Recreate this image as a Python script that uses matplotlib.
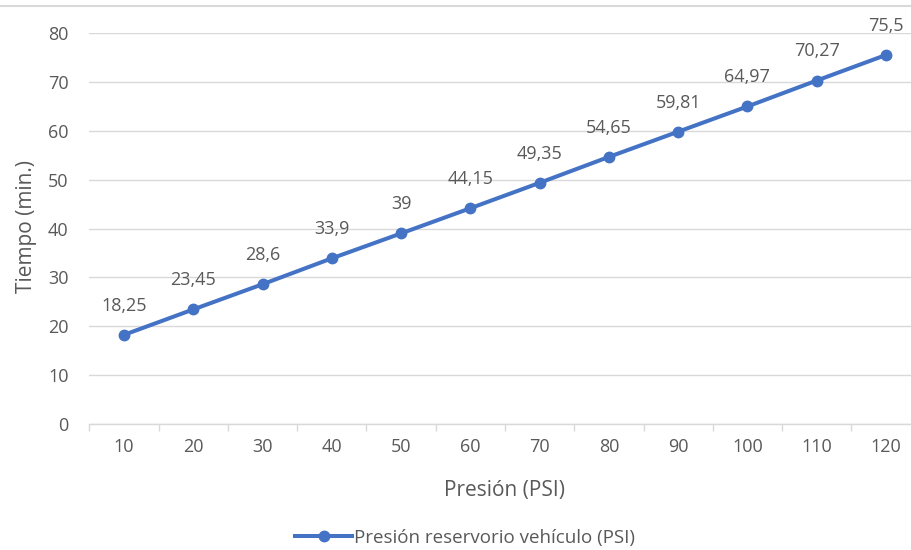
import matplotlib.pyplot as plt
import numpy as np

presion = [10, 20, 30, 40, 50, 60, 70, 80, 90, 100, 110, 120]
tiempo = [18.25, 23.45, 28.6, 33.9, 39, 44.15, 49.35, 54.65, 59.81, 64.97, 70.27, 75.5]
etiquetas = ["18,25", "23,45", "28,6", "33,9", "39", "44,15", "49,35",
             "54,65", "59,81", "64,97", "70,27", "75,5"]

plt.rcParams['font.family'] = ['Open Sans', 'DejaVu Sans']
gris = "#595959"
azul = "#4472C4"

fig = plt.figure(figsize=(9.12, 5.5), dpi=100)
ax = fig.add_axes([0.098, 0.229, 0.9114, 0.711])

x = np.arange(len(presion))
ax.plot(x, tiempo, color=azul, lw=2.9, marker="o", ms=7.5,
        label="Presión reservorio vehículo (PSI)", zorder=3, clip_on=False)

for xi, yi, txt in zip(x, tiempo, etiquetas):
    ax.annotate(txt, (xi, yi), xytext=(0, 21), textcoords="offset points",
                ha="center", va="center", fontsize=13, color=gris)

ax.set_xlim(-0.5, len(presion) - 0.5)
ax.set_ylim(0, 80)
ax.set_yticks(range(0, 81, 10))
ax.set_xticks(x)
ax.set_xticklabels([str(p) for p in presion])
ax.set_xticks(np.arange(-0.5, len(presion)), minor=True)

ax.grid(axis="y", color="#d9d9d9", lw=1)
ax.set_axisbelow(True)
for s in ["top", "right", "left"]:
    ax.spines[s].set_visible(False)
ax.spines["bottom"].set_color("#d9d9d9")
ax.spines["bottom"].set_linewidth(1)

ax.tick_params(axis="y", length=0, pad=15, labelsize=13, labelcolor=gris)
ax.tick_params(axis="x", which="major", length=0, pad=10, labelsize=13, labelcolor=gris)
ax.tick_params(axis="x", which="minor", length=5, color="#d9d9d9", width=1)

ax.set_xlabel("Presión (PSI)", fontsize=15, color=gris)
ax.set_ylabel("Tiempo (min.)", fontsize=15, color=gris)
ax.xaxis.set_label_coords((505 - 89.4) / 831.2, (424 - 490) / 391)
ax.xaxis.label.set_va("center")
ax.yaxis.set_label_coords((27 - 89.4) / 831.2, (424 - 226) / 391)
ax.yaxis.label.set_va("center")

fig.legend(loc="center", bbox_to_anchor=(465 / 912, 1 - 538 / 550), frameon=False,
           fontsize=13.5, labelcolor=gris, handlelength=3, handletextpad=0.1)

fig.add_artist(plt.Line2D([0, 1], [1 - 6 / 550, 1 - 6 / 550], color="#d9d9d9", lw=1.5))

fig.savefig("out.png", dpi=100)
